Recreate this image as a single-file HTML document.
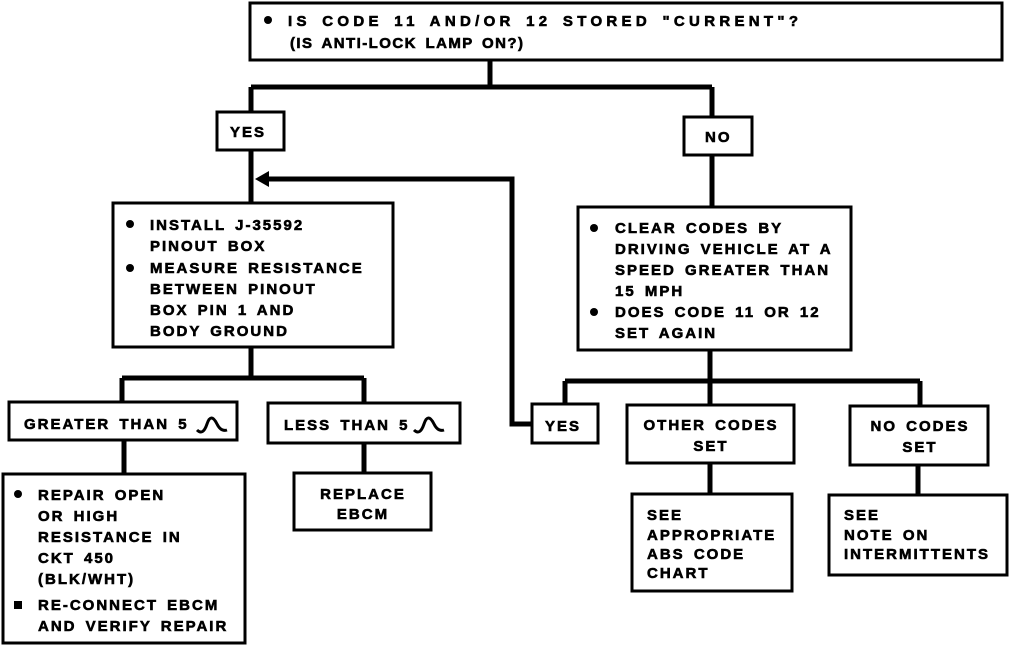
<!DOCTYPE html>
<html><head><style>body{margin:0;background:#fff}svg{display:block}text{font-family:"Liberation Sans",Arial,sans-serif;font-weight:bold;font-size:15px;fill:#000;stroke:#000;stroke-width:0.6;letter-spacing:2px;word-spacing:3px}</style></head><body>
<svg width="1024" height="646" viewBox="0 0 1024 646" xmlns="http://www.w3.org/2000/svg">
<g fill="none" stroke="#000" stroke-width="3">
<rect x="250" y="3" width="752" height="57"/>
<rect x="217" y="112" width="67" height="38"/>
<rect x="684" y="117" width="68" height="38"/>
<rect x="113" y="203" width="280" height="144"/>
<rect x="578" y="207" width="273" height="143"/>
<rect x="9" y="402" width="228" height="38"/>
<rect x="268" y="403" width="192" height="40"/>
<rect x="3" y="474" width="242" height="169"/>
<rect x="294" y="473" width="137" height="57"/>
<rect x="532" y="404" width="66" height="39"/>
<rect x="627" y="405" width="167" height="58"/>
<rect x="850" y="406" width="138" height="59"/>
<rect x="632" y="494" width="160" height="97"/>
<rect x="829" y="495" width="178" height="80"/>
</g>
<g fill="none" stroke="#000" stroke-width="5">
<path d="M490 60V87M251 87H712M251 87V112M712 87V117M251 150V203M712 155V207"/>
<path d="M262 179H512V424H532"/>
<path d="M251 347V378M122 378H364M122 378V402M364 378V403M124 440V474M364 443V473"/>
<path d="M710 350V381M565 381H920M565 381V404M710 381V405M920 381V406M710 463V494M918 465V495"/>
</g>
<polygon points="255,179 269,171 269,187" fill="#000"/>
<g fill="#000"><circle cx="268" cy="20" r="4"/><circle cx="130" cy="224" r="4"/><circle cx="130" cy="268" r="4"/><circle cx="594" cy="228" r="4"/><circle cx="594" cy="312" r="4"/><circle cx="18" cy="494" r="4"/><rect x="14" y="601" width="8" height="8"/></g>
<text x="288" y="26" textLength="512" lengthAdjust="spacing">IS CODE 11 AND/OR 12 STORED "CURRENT"?</text>
<text x="290" y="48" textLength="235" lengthAdjust="spacing">(IS ANTI-LOCK LAMP ON?)</text>
<text x="230" y="137">YES</text>
<text x="705" y="142">NO</text>
<text x="150" y="230">INSTALL J-35592</text>
<text x="150" y="251">PINOUT BOX</text>
<text x="150" y="273">MEASURE RESISTANCE</text>
<text x="150" y="294">BETWEEN PINOUT</text>
<text x="150" y="315">BOX PIN 1 AND</text>
<text x="150" y="336">BODY GROUND</text>
<text x="615" y="233">CLEAR CODES BY</text>
<text x="615" y="254">DRIVING VEHICLE AT A</text>
<text x="615" y="275">SPEED GREATER THAN</text>
<text x="615" y="296">15 MPH</text>
<text x="615" y="317">DOES CODE 11 OR 12</text>
<text x="615" y="338">SET AGAIN</text>
<text x="24" y="429">GREATER THAN 5</text>
<text x="284" y="430">LESS THAN 5</text>
<path d="M197 430q6 6 10-6q4-12 10 0q4 8 10 6M414 430q6 6 10-6q4-12 10 0q4 8 10 6" fill="none" stroke="#000" stroke-width="3"/>
<text x="38" y="500">REPAIR OPEN</text>
<text x="38" y="521">OR HIGH</text>
<text x="38" y="542">RESISTANCE IN</text>
<text x="38" y="563">CKT 450</text>
<text x="38" y="584">(BLK/WHT)</text>
<text x="38" y="610">RE-CONNECT EBCM</text>
<text x="38" y="631">AND VERIFY REPAIR</text>
<text x="363" y="499" text-anchor="middle">REPLACE</text>
<text x="363" y="519" text-anchor="middle">EBCM</text>
<text x="545" y="431">YES</text>
<text x="711" y="430" text-anchor="middle">OTHER CODES</text>
<text x="711" y="451" text-anchor="middle">SET</text>
<text x="920" y="431" text-anchor="middle">NO CODES</text>
<text x="920" y="452" text-anchor="middle">SET</text>
<text x="647" y="520">SEE</text>
<text x="647" y="540">APPROPRIATE</text>
<text x="647" y="559">ABS CODE</text>
<text x="647" y="578">CHART</text>
<text x="844" y="520">SEE</text>
<text x="844" y="540">NOTE ON</text>
<text x="844" y="559">INTERMITTENTS</text>
</svg>
</body></html>
